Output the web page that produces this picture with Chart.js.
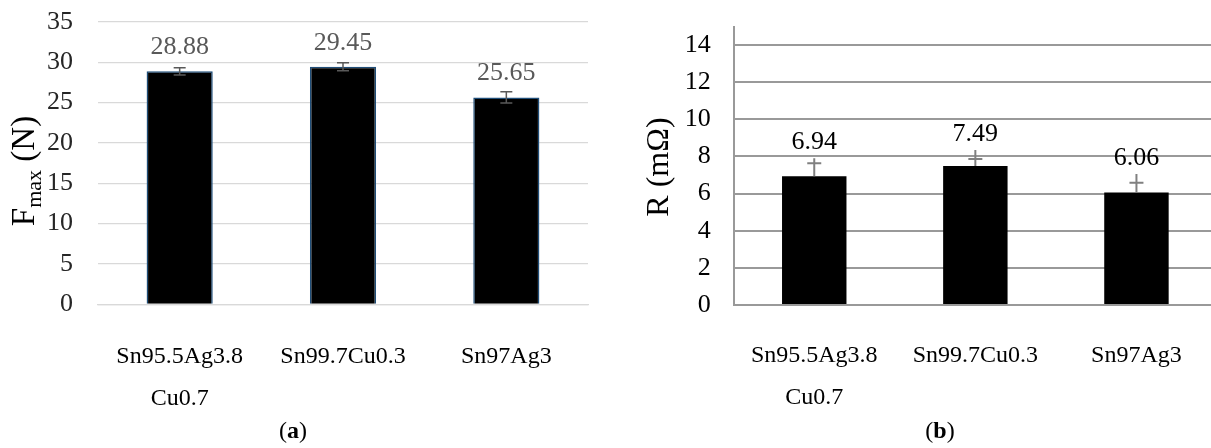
<!DOCTYPE html>
<html>
<head>
<meta charset="utf-8">
<script src="https://cdn.jsdelivr.net/npm/chart.js@4.4.1/dist/chart.umd.min.js"></script>
<style>
  html, body { margin: 0; padding: 0; background: #fff; overflow: hidden; width: 1211px; height: 448px; }
  #wrapA { position: absolute; left: 0; top: 0; width: 600px; height: 448px; }
  #wrapB { position: absolute; left: 600px; top: 0; width: 620px; height: 448px; }
  .panel-tag { position: absolute; top: 417px; font-family: "Liberation Serif", serif; font-size: 24px; color: #000; transform: translateX(-50%); white-space: nowrap; }
</style>
</head>
<body>
<div id="wrapA"><canvas id="chartA" width="600" height="448"></canvas></div>
<div id="wrapB"><canvas id="chartB" width="620" height="448"></canvas></div>
<div class="panel-tag" style="left:293px">(<b>a</b>)</div>
<div class="panel-tag" style="left:940px">(<b>b</b>)</div>

<script>
// Solder alloys compared in both panels
const alloys = [['Sn95.5Ag3.8', 'Cu0.7'], 'Sn99.7Cu0.3', 'Sn97Ag3'];

// (a) maximum pull force, N, with ± error
const fmaxValues = [28.88, 29.45, 25.65];
const fmaxErrors = [0.45, 0.5, 0.7];

// (b) joint resistance, mΩ; cap offset and whisker length above the bar
const resistValues = [6.94, 7.49, 6.06];
const resistCapErr = [0.69, 0.37, 0.53];
const resistWhisker = [0.96, 0.86, 0.99];

// Axis tick settings
const fmaxTicks = { min: 0, max: 35, step: 5 };
const resistTicks = { min: 0, max: 15, step: 2 };

const SERIF = '"Liberation Serif", "Times New Roman", serif';

// Error bars and value labels drawn on top of the bars
const barExtras = {
  id: 'barExtras',
  afterDatasetsDraw(chart, args, opts) {
    const ctx = chart.ctx;
    const yScale = chart.scales.y;
    const meta = chart.getDatasetMeta(0);
    const data = chart.data.datasets[0].data;
    ctx.save();
    meta.data.forEach((bar, i) => {
      const v = data[i];
      const x = bar.x;
      ctx.strokeStyle = opts.errColor;
      ctx.lineWidth = opts.errWidth;
      let labelRef;
      if (opts.mode === 'both') {
        const e = opts.err[i];
        const yt = yScale.getPixelForValue(v + e);
        const yb = yScale.getPixelForValue(v - e);
        ctx.beginPath();
        ctx.moveTo(x, yt); ctx.lineTo(x, yb);
        ctx.moveTo(x - opts.capHalf, yt); ctx.lineTo(x + opts.capHalf, yt);
        ctx.moveTo(x - opts.capHalf, yb); ctx.lineTo(x + opts.capHalf, yb);
        ctx.stroke();
        labelRef = bar.y;
      } else {
        const yc = yScale.getPixelForValue(v + opts.err[i]);
        const ys = yScale.getPixelForValue(v + opts.whisker[i]);
        ctx.beginPath();
        ctx.moveTo(x, bar.y); ctx.lineTo(x, ys);
        ctx.moveTo(x - opts.capHalf, yc); ctx.lineTo(x + opts.capHalf, yc);
        ctx.stroke();
        labelRef = ys;
      }
      ctx.fillStyle = opts.labelColor;
      ctx.font = opts.labelSize + 'px ' + SERIF;
      ctx.textAlign = 'center';
      ctx.textBaseline = 'alphabetic';
      ctx.fillText(v.toFixed(2), x, labelRef - opts.labelGap);
    });
    ctx.restore();
  }
};

// Rotated y-axis caption made of text runs (allows a subscript)
const axisCaption = {
  id: 'axisCaption',
  afterDraw(chart, args, opts) {
    const ctx = chart.ctx;
    const area = chart.chartArea;
    ctx.save();
    ctx.translate(area.left - opts.offset, opts.centerY);
    ctx.rotate(-Math.PI / 2);
    let total = 0;
    const runs = opts.runs.map(r => {
      ctx.font = r.size + 'px ' + SERIF;
      const w = ctx.measureText(r.text).width;
      total += w;
      return Object.assign({ w }, r);
    });
    let x = -total / 2;
    ctx.fillStyle = opts.color;
    ctx.textAlign = 'left';
    ctx.textBaseline = 'alphabetic';
    runs.forEach(r => {
      ctx.font = r.size + 'px ' + SERIF;
      ctx.fillText(r.text, x, r.dy || 0);
      x += r.w;
    });
    ctx.restore();
  }
};

function xAxis(borderColor, borderWidth, height, pad) {
  return {
    type: 'category',
    grid: { display: false, drawTicks: false },
    border: { display: true, color: borderColor, width: borderWidth },
    ticks: {
      color: '#000',
      padding: pad,
      maxRotation: 0,
      minRotation: 0,
      autoSkip: false,
      font: { family: SERIF, size: 24, lineHeight: 1.75 }
    },
    afterFit(s) { s.height = height; }
  };
}

// Fixed-width value axis; the plot top is set by the layout padding alone
function fixYAxis(width) {
  return function (s) {
    s.width = width;
    s.paddingTop = 0;
    s.paddingBottom = 0;
  };
}

new Chart(document.getElementById('chartA'), {
  type: 'bar',
  data: {
    labels: alloys,
    datasets: [{
      data: fmaxValues,
      backgroundColor: '#000000',
      borderColor: '#1f4e79',
      borderWidth: 1.5,
      categoryPercentage: 1,
      barPercentage: 0.405
    }]
  },
  options: {
    responsive: false,
    animation: false,
    devicePixelRatio: 1,
    layout: { padding: { left: 0, right: 12, top: 22, bottom: 0 } },
    plugins: {
      legend: { display: false },
      tooltip: { enabled: false },
      barExtras: {
        mode: 'both', err: fmaxErrors, errColor: '#595959', errWidth: 1.5, capHalf: 6,
        labelColor: '#595959', labelSize: 26, labelGap: 17
      },
      axisCaption: {
        offset: 64, centerY: 171, color: '#000',
        runs: [
          { text: 'F', size: 33 },
          { text: 'max', size: 22, dy: 7 },
          { text: ' (N)', size: 33 }
        ]
      }
    },
    scales: {
      x: xAxis('#d9d9d9', 1.3, 143.7, 31),
      y: {
        min: fmaxTicks.min,
        max: fmaxTicks.max,
        ticks: {
          stepSize: fmaxTicks.step,
          padding: 25,
          color: '#262626',
          font: { family: SERIF, size: 26 }
        },
        grid: { color: '#d9d9d9', lineWidth: 1.3, drawTicks: false },
        border: { display: false },
        afterFit: fixYAxis(98)
      }
    }
  },
  plugins: [barExtras, axisCaption]
});

new Chart(document.getElementById('chartB'), {
  type: 'bar',
  data: {
    labels: alloys,
    datasets: [{
      data: resistValues,
      backgroundColor: '#000000',
      borderWidth: 0,
      categoryPercentage: 1,
      barPercentage: 0.4
    }]
  },
  options: {
    responsive: false,
    animation: false,
    devicePixelRatio: 1,
    layout: { padding: { left: 0, right: 3, top: 26.5, bottom: 0 } },
    plugins: {
      legend: { display: false },
      tooltip: { enabled: false },
      barExtras: {
        mode: 'plus', err: resistCapErr, whisker: resistWhisker,
        errColor: '#808080', errWidth: 2, capHalf: 7,
        labelColor: '#000', labelSize: 26, labelGap: 9
      },
      axisCaption: {
        offset: 66, centerY: 167, color: '#000',
        runs: [{ text: 'R (mΩ)', size: 32 }]
      }
    },
    scales: {
      x: xAxis('#999999', 2, 143, 30),
      y: {
        min: resistTicks.min,
        max: resistTicks.max,
        ticks: {
          stepSize: resistTicks.step,
          includeBounds: false,
          padding: 23,
          color: '#000',
          font: { family: SERIF, size: 26 }
        },
        grid: { color: '#999999', lineWidth: 2, drawTicks: false },
        border: { display: true, color: '#999999', width: 2 },
        afterFit: fixYAxis(133.7)
      }
    }
  },
  plugins: [barExtras, axisCaption]
});
</script>
</body>
</html>
